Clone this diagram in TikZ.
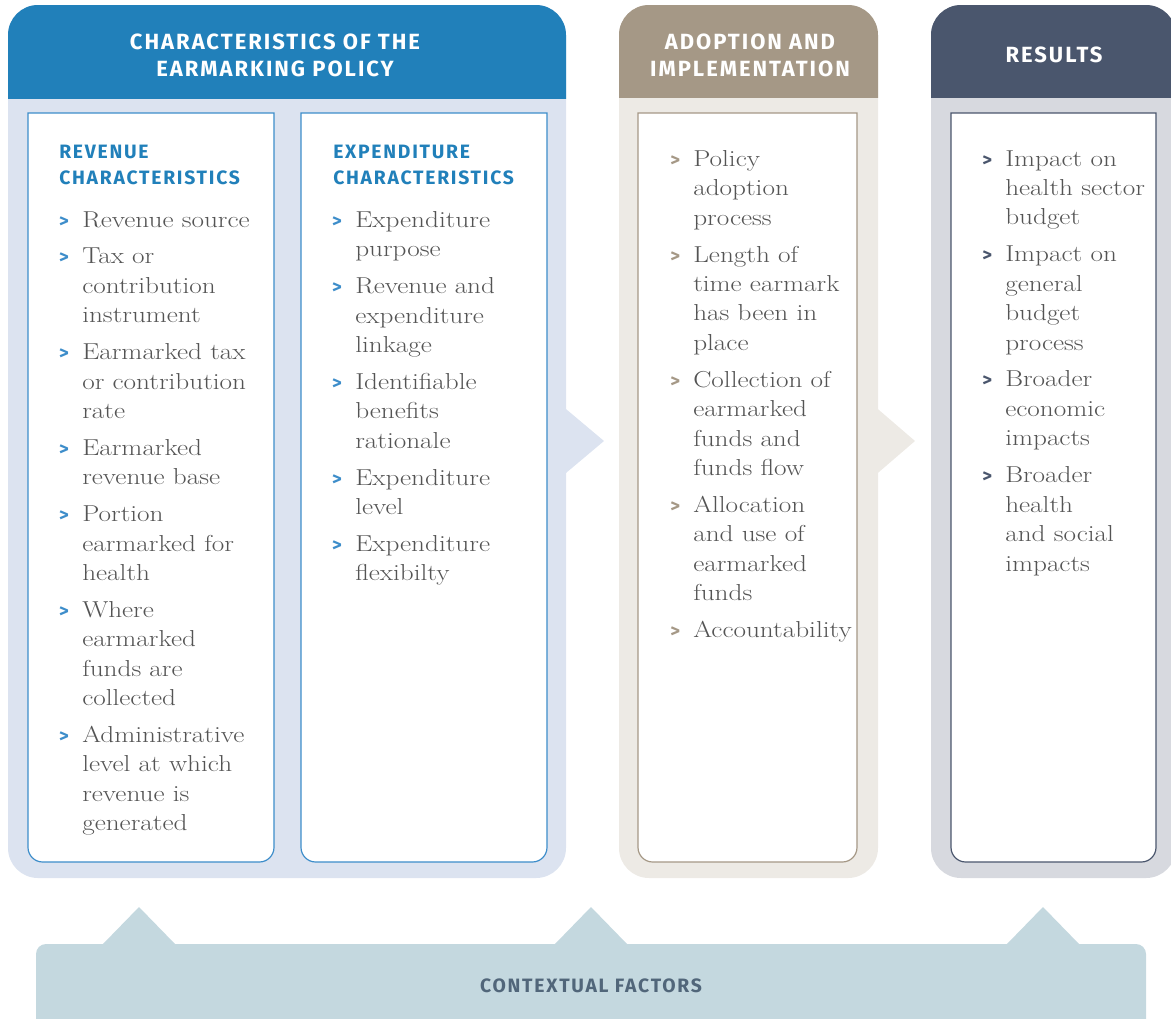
\documentclass[tikz,border=0pt]{standalone}
\usepackage{fontspec}
\newfontfamily\bodyfont[FakeStretch=1.18]{Latin Modern Roman}
\newfontfamily\headfont[LetterSpace=9]{Fira Sans}
\newfontfamily\bulfont{Fira Sans}
\definecolor{hblue}{HTML}{2180BA}
\definecolor{lblue}{HTML}{DCE3F0}
\definecolor{bblue}{HTML}{3D8DCA}
\definecolor{htan}{HTML}{A59886}
\definecolor{ltan}{HTML}{EDEAE5}
\definecolor{hdark}{HTML}{4A566D}
\definecolor{ldark}{HTML}{D7D9DF}
\definecolor{ctx}{HTML}{C4D8DF}
\definecolor{ctxtext}{HTML}{51667A}
\definecolor{bodytext}{HTML}{545454}
\newcommand\bul[1]{\llap{\textcolor{#1}{\bulfont\bfseries\fontsize{14}{14}\selectfont >}\hspace{10pt}}}
\begin{document}
\begin{tikzpicture}[x=0.75pt,y=-0.75pt,
  headtxt/.style={text=white,align=center,inner sep=0pt,font=\headfont\bfseries\fontsize{16.5}{20.2}\selectfont},
  subhead/.style={text=hblue,align=left,anchor=north west,inner sep=0pt,font=\headfont\bfseries\fontsize{14.5}{19.5}\selectfont},
  items/.style={text=bodytext,align=left,anchor=north west,inner sep=0pt,font=\bodyfont\fontsize{17.3}{22.1}\selectfont},
  inbox/.style={fill=white,line width=0.9pt}]
\useasboundingbox (0,0) rectangle (1171,1018);
\clip (0,0) rectangle (1171,1018);
% ---------- panel 1
\fill[lblue,rounded corners=22.5pt] (8,5) rectangle (566,878);
\fill[lblue] (560,404) -- (604,441) -- (560,478) -- cycle;
\begin{scope}
\clip (0,0) rectangle (1171,98);
\fill[hblue,rounded corners=22.5pt] (8,5) rectangle (566,878);
\end{scope}
\draw[inbox,draw=bblue,rounded corners=11pt] (28,500) -- (28,862) -- (274,862) -- (274,500) [sharp corners] -- (274,113) -- (28,113) -- cycle;
\draw[inbox,draw=bblue,rounded corners=11pt] (301,500) -- (301,862) -- (547,862) -- (547,500) [sharp corners] -- (547,113) -- (301,113) -- cycle;
% ---------- panel 2
\fill[ltan,rounded corners=22.5pt] (619,5) rectangle (878,878);
\fill[ltan] (872,404) -- (915,441) -- (872,478) -- cycle;
\begin{scope}
\clip (0,0) rectangle (1171,97);
\fill[htan,rounded corners=22.5pt] (619,5) rectangle (878,878);
\end{scope}
\draw[inbox,draw=htan,rounded corners=11pt] (638,500) -- (638,862) -- (857,862) -- (857,500) [sharp corners] -- (857,113) -- (638,113) -- cycle;
% ---------- panel 3
\fill[ldark,rounded corners=22.5pt] (931,5) rectangle (1176,878);
\begin{scope}
\clip (0,0) rectangle (1171,97);
\fill[hdark,rounded corners=22.5pt] (931,5) rectangle (1176,878);
\end{scope}
\draw[inbox,draw=hdark,rounded corners=11pt] (951,500) -- (951,862) -- (1156,862) -- (1156,500) [sharp corners] -- (1156,113) -- (951,113) -- cycle;
% ---------- contextual factors
\fill[ctx,rounded corners=7.5pt] (36,944) rectangle (1146,1060);
\fill[ctx] (102,945) -- (139,907) -- (176,945) -- cycle;
\fill[ctx] (554,945) -- (591,907) -- (628,945) -- cycle;
\fill[ctx] (1006,945) -- (1043,907) -- (1080,945) -- cycle;
\node[text=ctxtext,inner sep=0pt,font=\headfont\bfseries\fontsize{14.5}{16}\selectfont] (ctxt) at (591,986) {CONTEXTUAL FACTORS};
% ---------- headers
\node[headtxt] (h1) at (275,55.5) {CHARACTERISTICS OF THE\\EARMARKING POLICY};
\node[headtxt] (h2) at (750,55.5) {ADOPTION AND\\IMPLEMENTATION};
\node[headtxt] (h3) at (1054,55) {RESULTS};
\node[subhead] (s1) at (59,145) {REVENUE\\CHARACTERISTICS};
\node[subhead] (s2) at (333,145) {EXPENDITURE\\CHARACTERISTICS};
% ---------- items
\node[items] (l1) at (82,211) {\bul{bblue}Revenue source\\[5.5pt]
\bul{bblue}Tax or\\contribution\\instrument\\[5.5pt]
\bul{bblue}Earmarked tax\\or contribution\\rate\\[5.5pt]
\bul{bblue}Earmarked\\revenue base\\[5.5pt]
\bul{bblue}Portion\\earmarked for\\health\\[5.5pt]
\bul{bblue}Where\\earmarked\\funds are\\collected\\[5.5pt]
\bul{bblue}Administrative\\level at which\\revenue is\\generated};
\node[items] (l2) at (355,211) {\bul{bblue}Expenditure\\purpose\\[5.5pt]
\bul{bblue}Revenue and\\expenditure\\linkage\\[5.5pt]
\bul{bblue}Identifiable\\benefits\\rationale\\[5.5pt]
\bul{bblue}Expenditure\\level\\[5.5pt]
\bul{bblue}Expenditure\\flexibilty};
\node[items] (l3) at (693,150) {\bul{htan}Policy\\adoption\\process\\[5.5pt]
\bul{htan}Length of\\time earmark\\has been in\\place\\[5.5pt]
\bul{htan}Collection of\\earmarked\\funds and\\funds flow\\[5.5pt]
\bul{htan}Allocation\\and use of\\earmarked\\funds\\[5.5pt]
\bul{htan}Accountability};
\node[items] (l4) at (1005,150) {\bul{hdark}Impact on\\health sector\\budget\\[5.5pt]
\bul{hdark}Impact on\\general\\budget\\process\\[5.5pt]
\bul{hdark}Broader\\economic\\impacts\\[5.5pt]
\bul{hdark}Broader\\health\\and social\\impacts};
\end{tikzpicture}
\end{document}
